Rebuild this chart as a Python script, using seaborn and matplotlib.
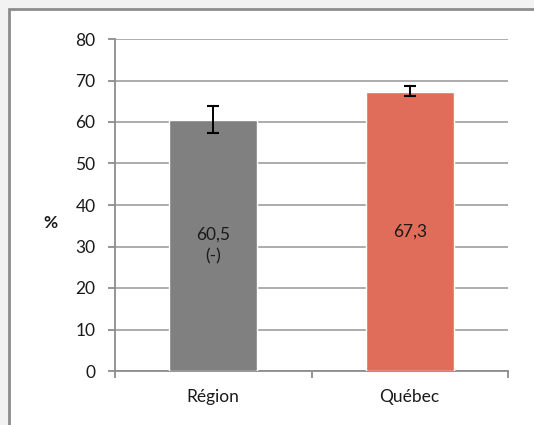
import matplotlib
matplotlib.use("Agg")
import matplotlib.pyplot as plt
import seaborn as sns
import pandas as pd
from matplotlib.patches import Rectangle

# data
categories = ["Région", "Québec"]
values = [60.5, 67.3]
err_low = [3.2, 1.0]
err_high = [3.3, 1.4]
bar_labels = ["60,5\n(-)", "67,3"]
colors = ["#808080", "#E06C5A"]
y_ticks = [0, 10, 20, 30, 40, 50, 60, 70, 80]

sns.set_theme(style="white")
plt.rcParams["font.family"] = ["Lato", "DejaVu Sans"]
FS = 12.5

fig = plt.figure(figsize=(5.34, 4.25), dpi=100)
fig.patch.set_facecolor("#f2f2f2")
# chart area frame (runs off the right and bottom edges like the reference)
fig.patches.append(Rectangle((9 / 534, -0.05), 1.2, 1 - 9 / 425 + 0.05,
                             transform=fig.transFigure, facecolor="white",
                             edgecolor="#8c8c8c", linewidth=2.0, zorder=-1))

ax = fig.add_axes([115 / 534, 54 / 425, 393 / 534, 332 / 425])
ax.set_facecolor("none")
df = pd.DataFrame({"cat": categories, "val": values})
sns.barplot(data=df, x="cat", y="val", hue="cat", palette=dict(zip(categories, colors)),
            width=0.45, errorbar=None, legend=False, ax=ax, zorder=3, saturation=1)
ax.errorbar(range(len(values)), values, yerr=[err_low, err_high], fmt="none",
            ecolor="black", elinewidth=1.4, capsize=4.5, capthick=1.5, zorder=4)

for i, (v, lab) in enumerate(zip(values, bar_labels)):
    ax.text(i, v / 2, lab, ha="center", va="center", fontsize=FS, color="#1a1a1a",
            linespacing=1.45, zorder=5)

ax.set_ylim(0, 80)
ax.set_xlim(-0.5, len(categories) - 0.5)
ax.set_yticks(y_ticks)
ax.yaxis.grid(True, color="#a6a6a6", linewidth=1.3, zorder=0)
ax.set_axisbelow(True)
ax.set_xlabel("")
ax.set_ylabel("")
for s in ["top", "right"]:
    ax.spines[s].set_visible(False)
for s in ["left", "bottom"]:
    ax.spines[s].set_color("#8c8c8c")
    ax.spines[s].set_linewidth(1.3)
ax.tick_params(axis="y", length=5, width=1.3, color="#8c8c8c", pad=9,
               labelsize=FS, labelcolor="#1a1a1a", left=True)
ax.tick_params(axis="x", length=0, pad=13, labelsize=FS, labelcolor="#1a1a1a")
ax.set_xticks([-0.5, 0.5, 1.5], minor=True)
ax.tick_params(axis="x", which="minor", length=5, width=1.3, color="#8c8c8c", bottom=True)

fig.text(50 / 534, 1 - 223 / 425, "%", fontsize=FS, fontweight="bold",
         ha="center", va="center", color="#1a1a1a")

fig.savefig("out.png", dpi=100, facecolor=fig.get_facecolor())
